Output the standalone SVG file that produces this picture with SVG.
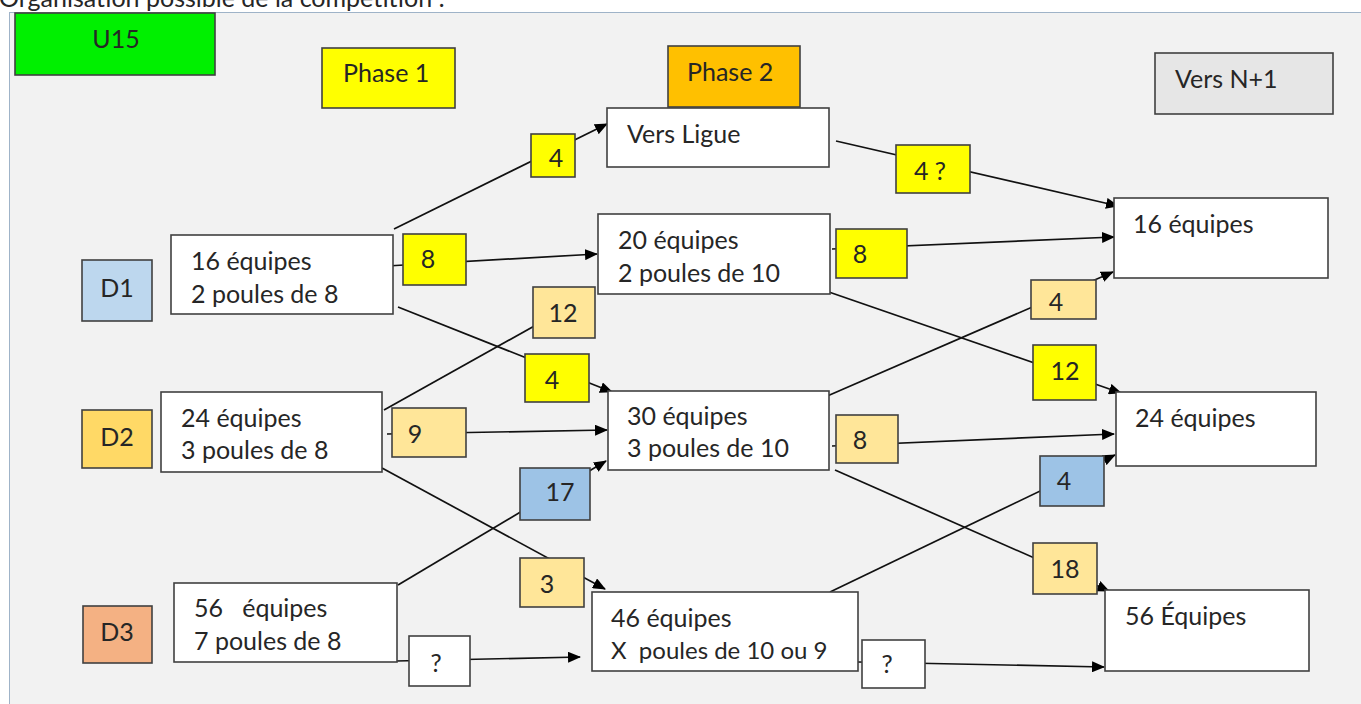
<svg xmlns="http://www.w3.org/2000/svg" width="1361" height="704" viewBox="0 0 1361 704">
<style>
.t{font-family:Lato,"Liberation Sans",sans-serif;font-size:25px;fill:#262626}
.m{text-anchor:middle}
.b{stroke:#404040;stroke-width:1.6}
.w{fill:#ffffff}
.y{fill:#ffff00}
.o{fill:#ffe699}
.u{fill:#9dc3e6}
.c line{stroke:#111;stroke-width:1.7;fill:none}
.c line.a{marker-end:url(#ah)}
</style>
<defs>
<marker id="ah" markerUnits="userSpaceOnUse" markerWidth="13" markerHeight="11" refX="12" refY="5.5" orient="auto">
<path d="M0,0 L13,5.5 L0,11 z" fill="#000"/>
</marker>
</defs>
<rect x="0" y="0" width="1361" height="704" fill="#ffffff"/>
<text class="t" x="-1" y="7" style="font-size:25px">Organisation possible de la compétition :</text>
<rect x="9.5" y="12.5" width="1352" height="692" fill="#f2f2f2" stroke="#9fb3c8" stroke-width="1"/>

<g id="connectors" class="c">
<line class="a" x1="394" y1="229" x2="607" y2="124"/>
<line class="a" x1="387" y1="266" x2="597" y2="254"/>
<line class="a" x1="398" y1="307" x2="612" y2="392"/>
<line x1="384" y1="410" x2="570" y2="306"/>
<line class="a" x1="387" y1="434" x2="607" y2="430"/>
<line class="a" x1="382" y1="468" x2="605" y2="589"/>
<line class="a" x1="398" y1="585" x2="606" y2="461"/>
<line class="a" x1="396" y1="661" x2="580" y2="657"/>
<line class="a" x1="836" y1="141" x2="1118" y2="206"/>
<line class="a" x1="832" y1="249" x2="1114" y2="237"/>
<line class="a" x1="826" y1="291" x2="1121" y2="393"/>
<line class="a" x1="825" y1="397" x2="1113" y2="272"/>
<line class="a" x1="832" y1="446" x2="1114" y2="434"/>
<line class="a" x1="835" y1="470" x2="1109" y2="591"/>
<line class="a" x1="830" y1="592" x2="1115" y2="455"/>
<line class="a" x1="858" y1="662" x2="1104" y2="667"/>
</g>

<g id="u15"><rect class="b" x="15" y="13" width="200" height="62" fill="#00f000"/><text class="t m" x="116" y="48">U15</text></g>
<g id="phase1"><rect class="b y" x="322" y="48" width="133" height="60"/><text class="t" x="343" y="82">Phase 1</text></g>
<g id="phase2"><rect class="b" x="668" y="46" width="132" height="61" fill="#ffc000"/><text class="t" x="687" y="81">Phase 2</text></g>
<g id="versn1"><rect class="b" x="1155" y="53" width="178" height="61" fill="#e6e6e6"/><text class="t" x="1175" y="88">Vers N+1</text></g>
<g id="versligue"><rect class="b w" x="607" y="108" width="222" height="59"/><text class="t" x="627" y="143">Vers Ligue</text></g>

<g id="d1"><rect class="b" x="82" y="260" width="70" height="61" fill="#bdd7ee"/><text class="t m" x="117" y="297">D1</text></g>
<g id="d2"><rect class="b" x="82" y="410" width="70" height="58" fill="#ffd966"/><text class="t m" x="117" y="446">D2</text></g>
<g id="d3"><rect class="b" x="83" y="606" width="69" height="57" fill="#f4b183"/><text class="t m" x="117" y="641">D3</text></g>

<g id="p1d1"><rect class="b w" x="171" y="235" width="222" height="79"/><text class="t" x="191" y="270">16 équipes</text><text class="t" x="191" y="303">2 poules de 8</text></g>
<g id="p1d2"><rect class="b w" x="161" y="392" width="221" height="80"/><text class="t" x="181" y="427">24 équipes</text><text class="t" x="181" y="459">3 poules de 8</text></g>
<g id="p1d3"><rect class="b w" x="174" y="583" width="223" height="79"/><text class="t" x="194" y="617" xml:space="preserve">56   équipes</text><text class="t" x="194" y="650">7 poules de 8</text></g>

<g id="p2a"><rect class="b w" x="598" y="214" width="232" height="80"/><text class="t" x="618" y="249">20 équipes</text><text class="t" x="618" y="282">2 poules de 10</text></g>
<g id="p2b"><rect class="b w" x="608" y="391" width="221" height="79"/><text class="t" x="627" y="425">30 équipes</text><text class="t" x="627" y="457">3 poules de 10</text></g>
<g id="p2c"><rect class="b w" x="592" y="592" width="266" height="79"/><text class="t" x="611" y="627">46 équipes</text><text class="t" x="611" y="659" xml:space="preserve" style="font-size:24px">X  poules de 10 ou 9</text></g>

<g id="n16"><rect class="b w" x="1114" y="198" width="214" height="80"/><text class="t" x="1133" y="233">16 équipes</text></g>
<g id="n24"><rect class="b w" x="1116" y="392" width="200" height="74"/><text class="t" x="1135" y="427">24 équipes</text></g>
<g id="n56"><rect class="b w" x="1105" y="590" width="204" height="81"/><text class="t" x="1125" y="625">56 Équipes</text></g>

<g id="l1"><rect class="b y" x="531" y="134" width="44" height="43"/><text class="t m" x="556" y="167">4</text></g>
<g id="l2"><rect class="b y" x="896" y="145" width="74" height="48"/><text class="t m" x="930" y="180">4 ?</text></g>
<g id="l3"><rect class="b y" x="403" y="234" width="63" height="51"/><text class="t m" x="428" y="268">8</text></g>
<g id="l4"><rect class="b y" x="836" y="229" width="71" height="49"/><text class="t m" x="860" y="263">8</text></g>
<g id="l5"><rect class="b o" x="533" y="287" width="62" height="51"/><text class="t m" x="563" y="322">12</text></g>
<g id="l6"><rect class="b y" x="525" y="354" width="64" height="48"/><text class="t m" x="552" y="389">4</text></g>
<g id="l7"><rect class="b o" x="392" y="408" width="74" height="49"/><text class="t m" x="415" y="443">9</text></g>
<g id="l8"><rect class="b u" x="520" y="468" width="70" height="52"/><text class="t m" x="560" y="501">17</text></g>
<g id="l9"><rect class="b o" x="520" y="558" width="64" height="49"/><text class="t m" x="547" y="593">3</text></g>
<g id="l10"><rect class="b w" x="409" y="636" width="61" height="50"/><text class="t m" x="436" y="672">?</text></g>
<g id="l11"><rect class="b o" x="1031" y="280" width="65" height="39"/><text class="t m" x="1056" y="311">4</text></g>
<g id="l12"><rect class="b y" x="1033" y="345" width="63" height="55"/><text class="t m" x="1065" y="380">12</text></g>
<g id="l13"><rect class="b o" x="836" y="415" width="62" height="48"/><text class="t m" x="860" y="449">8</text></g>
<g id="l14"><rect class="b u" x="1040" y="456" width="64" height="50"/><text class="t m" x="1064" y="490">4</text></g>
<g id="l15"><rect class="b o" x="1033" y="543" width="64" height="51"/><text class="t m" x="1065" y="578">18</text></g>
<g id="l16"><rect class="b w" x="862" y="640" width="63" height="48"/><text class="t m" x="887" y="673">?</text></g>
</svg>
